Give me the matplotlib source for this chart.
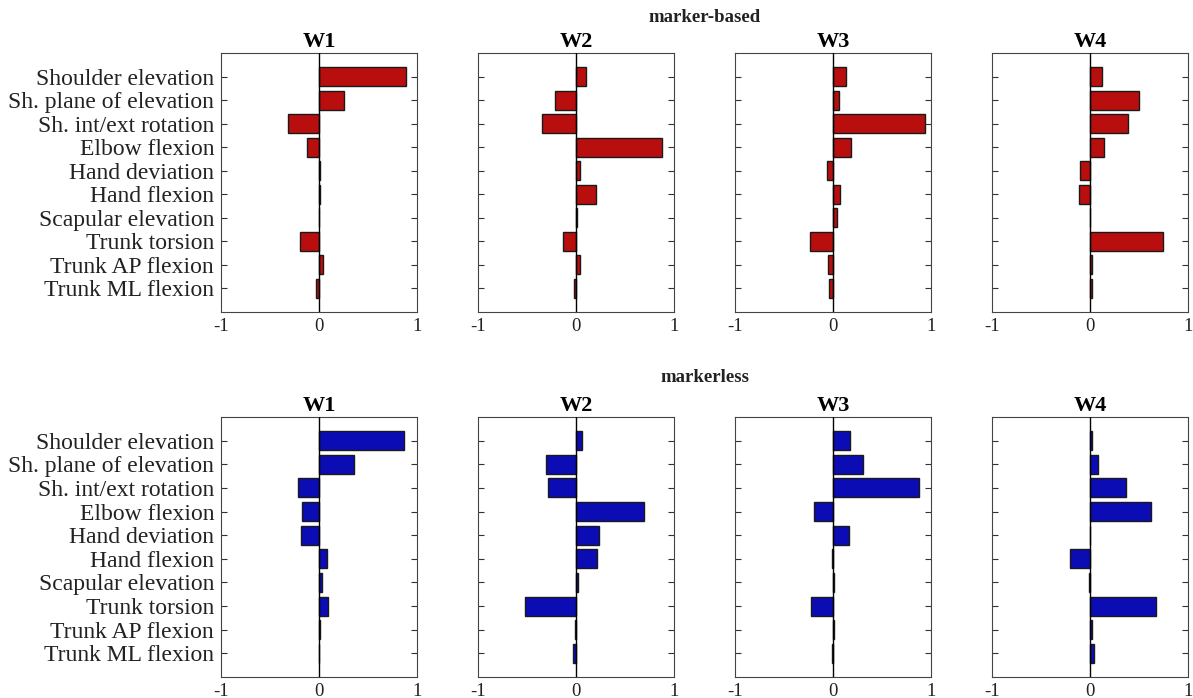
import matplotlib
matplotlib.use("Agg")
import matplotlib.pyplot as plt
import numpy as np

plt.rcParams['font.family'] = ['Liberation Serif', 'DejaVu Serif']

categories = ["Shoulder elevation", "Sh. plane of elevation", "Sh. int/ext rotation",
              "Elbow flexion", "Hand deviation", "Hand flexion", "Scapular elevation",
              "Trunk torsion", "Trunk AP flexion", "Trunk ML flexion"]
synergies = ["W1", "W2", "W3", "W4"]

marker_based_W1 = [0.89, 0.26, -0.32, -0.12, 0.006, 0.01, -0.005, -0.19, 0.04, -0.03]
marker_based_W2 = [0.10, -0.21, -0.35, 0.88, 0.04, 0.20, 0.015, -0.13, 0.04, -0.02]
marker_based_W3 = [0.13, 0.06, 0.94, 0.18, -0.06, 0.075, 0.045, -0.23, -0.055, -0.04]
marker_based_W4 = [0.12, 0.50, 0.39, 0.14, -0.10, -0.11, -0.005, 0.74, 0.02, 0.02]

markerless_W1 = [0.87, 0.36, -0.21, -0.17, -0.18, 0.08, 0.035, 0.09, 0.015, 0.005]
markerless_W2 = [0.06, -0.31, -0.29, 0.69, 0.23, 0.21, 0.02, -0.52, -0.015, -0.035]
markerless_W3 = [0.17, 0.31, 0.88, -0.19, 0.16, -0.01, 0.01, -0.22, 0.01, -0.015]
markerless_W4 = [0.025, 0.085, 0.37, 0.62, 0.005, -0.20, -0.01, 0.67, 0.025, 0.045]

groups = [
    ("marker-based", [marker_based_W1, marker_based_W2, marker_based_W3, marker_based_W4], "#b80e0e"),
    ("markerless", [markerless_W1, markerless_W2, markerless_W3, markerless_W4], "#0c0cb4"),
]

fig = plt.figure(figsize=(11.93, 6.98), dpi=100)
W, H = 1193, 698
lefts = [221, 478, 735, 992]
width = 196
rows = [(53, 312), (417, 677)]
suptitle_y = [17, 377]

pos = np.arange(1, len(categories) + 1)
for r, (gname, series, color) in enumerate(groups):
    top, bot = rows[r]
    for c in range(4):
        ax = fig.add_axes([lefts[c] / W, 1 - bot / H, width / W, (bot - top) / H])
        ax.barh(pos, series[c], height=0.8, color=color, edgecolor="#1a1a1a", linewidth=1.0, zorder=2)
        ax.axvline(0, color="black", linewidth=1.0, zorder=3)
        ax.set_xlim(-1, 1)
        ax.set_ylim(len(categories) + 1, 0)
        ax.set_xticks([-1, 0, 1])
        ax.set_xticklabels(["-1", "0", "1"])
        ax.set_yticks(pos)
        if c == 0:
            ax.set_yticklabels(categories, fontsize=17)
        else:
            ax.set_yticklabels([])
        ax.tick_params(axis="y", direction="in", left=True, right=True, length=4, width=0.8, color="#333333")
        ax.tick_params(axis="x", direction="in", bottom=True, top=False, length=0, labelsize=13.5, pad=4, colors="#222222")
        ax.tick_params(axis="y", colors="#333333", labelcolor="#222222", pad=5)
        for s in ax.spines.values():
            s.set_color("#444444")
            s.set_linewidth(0.8)
        ax.set_title(synergies[c], fontsize=16, fontweight="bold", pad=4)
    fig.text((lefts[0] + lefts[3] + width) / 2 / W, 1 - suptitle_y[r] / H, gname,
             ha="center", va="center", fontsize=13.5, fontweight="bold", color="#222222")

fig.savefig("out.png", dpi=100)
